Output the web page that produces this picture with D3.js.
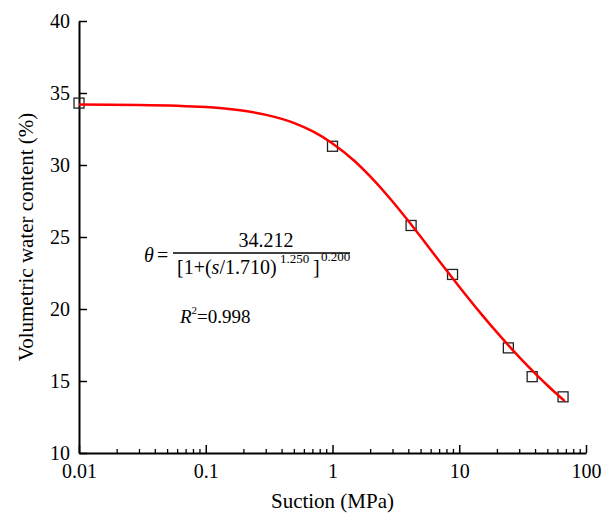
<!DOCTYPE html>
<html>
<head>
<meta charset="utf-8">
<script src="https://cdn.jsdelivr.net/npm/d3@7"></script>
<style>
  html, body { margin: 0; padding: 0; background: #fff; }
</style>
</head>
<body>
<svg id="chart" width="603" height="515"></svg>
<script>
// Measured data points (suction MPa, volumetric water content %)
const suction = [0.01, 1.0, 4.17, 8.85, 24.4, 37.6, 65.9];
const waterContent = [34.3, 31.3, 25.8, 22.4, 17.3, 15.3, 13.9];

// Fitted curve
const curveSuction = [0.01, 0.03, 0.1, 0.2, 0.3, 0.5, 0.7, 1, 1.5, 2, 3, 4, 5, 7, 10, 15, 20, 30, 40, 50, 68];
const curveWater = [34.20, 34.17, 34.02, 33.76, 33.48, 32.91, 32.33, 31.50, 30.26, 29.18, 27.43, 26.07, 24.98, 23.30, 21.55, 19.63, 18.34, 16.63, 15.50, 14.67, 13.60];

const xTicks = [0.01, 0.1, 1, 10, 100];
const xTickLabels = ["0.01", "0.1", "1", "10", "100"];
const yTicks = [10, 15, 20, 25, 30, 35, 40];

const xTitle = "Suction (MPa)";
const yTitle = "Volumetric water content (%)";

const FONT = "'Liberation Serif', 'Times New Roman', serif";
const svg = d3.select("#chart");
const m = { left: 79, top: 21, right: 17, bottom: 62 };
const W = 603, H = 515;
const iw = W - m.left - m.right, ih = H - m.top - m.bottom;

const x = d3.scaleLog().domain([0.01, 100]).range([0, iw]);
const y = d3.scaleLinear().domain([10, 40]).range([ih, 0]);

const g = svg.append("g").attr("transform", `translate(${m.left},${m.top})`);

// minor ticks on x
const minor = [];
for (let e = -2; e < 2; e++) for (let k = 2; k <= 9; k++) minor.push(k * Math.pow(10, e));

const gx = g.append("g").attr("transform", `translate(0,${ih})`)
  .call(d3.axisBottom(x).tickValues(xTicks).tickFormat((d, i) => xTickLabels[i])
    .tickSizeInner(-8).tickSizeOuter(0).tickPadding(11));
gx.append("g").selectAll("line").data(minor).join("line")
  .attr("x1", d => x(d)).attr("x2", d => x(d)).attr("y1", 0).attr("y2", -4)
  .attr("stroke", "#000").attr("stroke-width", 1.3);

const gy = g.append("g")
  .call(d3.axisLeft(y).tickValues(yTicks).tickFormat(d3.format("d"))
    .tickSizeInner(-8).tickSizeOuter(0).tickPadding(9));

[gx, gy].forEach(a => {
  a.select(".domain").attr("stroke", "#000").attr("stroke-width", 2);
  a.selectAll(".tick line").attr("stroke", "#000").attr("stroke-width", 1.5);
  a.selectAll(".tick text").style("font-size", "20px").attr("fill", "#000")
    .style("font-family", FONT);
});

// markers
g.append("g").selectAll("rect").data(suction).join("rect")
  .attr("x", (d) => x(d) - 5).attr("y", (d, i) => y(waterContent[i]) - 5)
  .attr("width", 10).attr("height", 10)
  .attr("fill", "none").attr("stroke", "#222").attr("stroke-width", 1.3);

// curve
const line = d3.line().x(d => x(d[0])).y(d => y(d[1])).curve(d3.curveMonotoneX);
g.append("path").datum(curveSuction.map((s, i) => [s, curveWater[i]]))
  .attr("d", line).attr("fill", "none").attr("stroke", "#ff0000").attr("stroke-width", 2.5);

// titles
svg.append("text").attr("x", m.left + iw / 2).attr("y", 508).attr("text-anchor", "middle")
  .style("font-family", FONT).style("font-size", "21px").text(xTitle);
svg.append("text").attr("transform", `translate(33,${m.top + ih / 2}) rotate(-90)`)
  .attr("text-anchor", "middle").style("font-family", FONT).style("font-size", "21px").text(yTitle);

// equation
const eq = svg.append("g").attr("fill", "#000").style("font-family", FONT);
const t = (xx, yy, size, str) => eq.append("text").attr("x", xx).attr("y", yy)
  .style("font-family", FONT).style("font-size", size + "px").text(str);
t(144, 262, 20, "θ").style("font-style", "italic");
t(157, 262, 20, "=");
eq.append("line").attr("x1", 173).attr("x2", 350).attr("y1", 253).attr("y2", 253)
  .attr("stroke", "#000").attr("stroke-width", 1.3);
t(266, 247, 20, "34.212").attr("text-anchor", "middle");
const den = t(177, 274, 20, null);
den.append("tspan").text("[1+(");
den.append("tspan").style("font-style", "italic").text("s");
den.append("tspan").text("/1.710)");
t(280, 263, 13, "1.250");
t(313, 274, 20, "]");
t(321, 261, 13, "0.200");

const r2 = t(180, 323, 19, null);
r2.append("tspan").style("font-style", "italic").text("R");
r2.append("tspan").style("font-size", "11px").attr("dy", -9).text("2");
r2.append("tspan").attr("dy", 9).text("=0.998");
</script>
</body>
</html>
